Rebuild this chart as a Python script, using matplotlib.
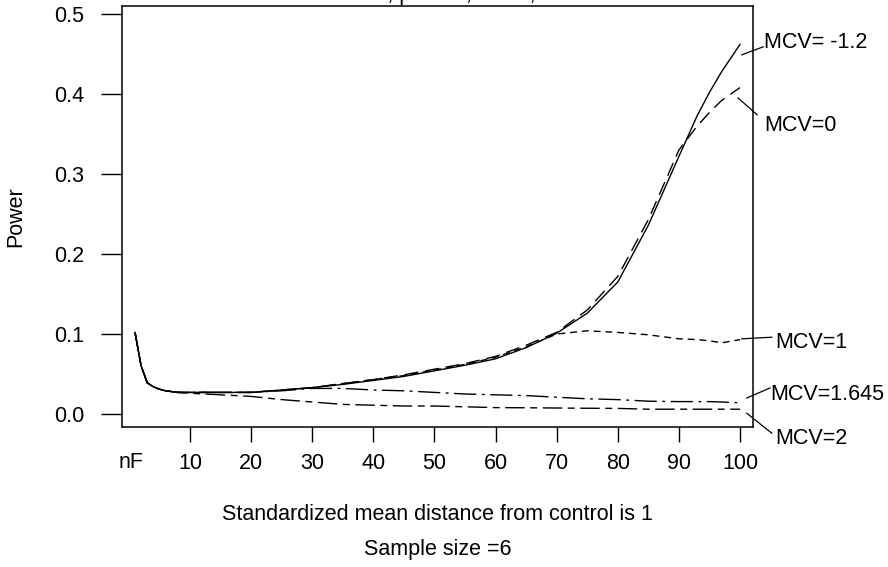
import matplotlib
matplotlib.use("Agg")
import matplotlib.pyplot as plt

plt.rcParams['font.family'] = ['Liberation Sans', 'DejaVu Sans']

# group size nF and power for each MCV value
nF = [1, 2, 3, 4, 5, 6, 8, 10, 15, 20, 25, 30, 35, 40, 45, 50, 55, 60, 65, 70,
      75, 80, 85, 90, 93, 95, 97, 100]

pow_m12 = [0.102, 0.060, 0.039, 0.034, 0.031, 0.029, 0.027, 0.027, 0.027, 0.027,
           0.030, 0.033, 0.037, 0.042, 0.047, 0.054, 0.061, 0.069, 0.083, 0.101,
           0.126, 0.165, 0.236, 0.322, 0.373, 0.402, 0.428, 0.462]
pow_0 = [0.102, 0.060, 0.039, 0.034, 0.031, 0.029, 0.027, 0.027, 0.027, 0.027,
         0.030, 0.033, 0.038, 0.043, 0.049, 0.056, 0.063, 0.072, 0.086, 0.102,
         0.130, 0.172, 0.243, 0.330, 0.360, 0.377, 0.392, 0.408]
pow_1 = [0.102, 0.060, 0.039, 0.034, 0.031, 0.029, 0.027, 0.027, 0.027, 0.027,
         0.030, 0.033, 0.038, 0.043, 0.048, 0.055, 0.062, 0.071, 0.084, 0.100,
         0.104, 0.102, 0.099, 0.094, 0.093, 0.0915, 0.089, 0.093]
pow_1645 = [0.102, 0.060, 0.039, 0.034, 0.031, 0.029, 0.027, 0.027, 0.027, 0.027,
            0.029, 0.032, 0.032, 0.030, 0.029, 0.027, 0.025, 0.024, 0.023, 0.021,
            0.019, 0.018, 0.016, 0.0155, 0.0155, 0.0155, 0.015, 0.014]
pow_2 = [0.102, 0.060, 0.039, 0.034, 0.031, 0.029, 0.027, 0.026, 0.024, 0.022,
         0.018, 0.015, 0.012, 0.011, 0.010, 0.010, 0.009, 0.008, 0.0078, 0.0075,
         0.0072, 0.007, 0.006, 0.006, 0.006, 0.006, 0.006, 0.006]

labels = ['MCV= -1.2', 'MCV=0', 'MCV=1', 'MCV=1.645', 'MCV=2']
series = [pow_m12, pow_0, pow_1, pow_1645, pow_2]
styles = ['-', (0, (10, 5)), (0, (5, 3.5)), (0, (16, 4, 2, 4)), (0, (14, 4, 5, 4))]

# label text position and leader line (start, end) in data units
label_pos = [(103.9, 0.464), (103.9, 0.361), (105.7, 0.089), (105.0, 0.024), (105.7, -0.031)]
leader_from = [(100.3, 0.449), (99.7, 0.395), (100.3, 0.094), (101.1, 0.020), (101.1, 0.001)]
leader_to = [(103.8, 0.459), (102.8, 0.374), (105.2, 0.096), (104.9, 0.0325), (105.2, -0.024)]

xticks = [10, 20, 30, 40, 50, 60, 70, 80, 90, 100]
yticks = [0.0, 0.1, 0.2, 0.3, 0.4, 0.5]

fig = plt.figure(figsize=(8.88, 5.67), dpi=100)
ax = fig.add_axes([0.1374, 0.2469, 0.7106, 0.7425])

for vals, ls in zip(series, styles):
    ax.plot(nF, vals, color='black', linestyle=ls, linewidth=1.0)

for lab, p, a, b in zip(labels, label_pos, leader_from, leader_to):
    ax.plot([a[0], b[0]], [a[1], b[1]], color='black', linewidth=0.9, clip_on=False)
    ax.text(p[0], p[1], lab, fontsize=15.5, ha='left', va='center', clip_on=False)

ax.set_xlim(-1.13, 102.13)
ax.set_ylim(-0.01625, 0.51)
ax.set_xticks(xticks)
ax.set_yticks(yticks)
ax.set_yticklabels([f'{v:.1f}' for v in yticks])
ax.tick_params(axis='x', length=11, width=1, pad=8, labelsize=15.5, direction='out')
ax.tick_params(axis='y', length=15, width=1, pad=12, labelsize=15.5, direction='out')
for s in ax.spines.values():
    s.set_linewidth(1.1)

ax.text(0.3, -0.06, 'nF', fontsize=15.5, ha='center', va='center', clip_on=False)
ax.set_ylabel('Power', fontsize=15.5)
ax.yaxis.set_label_coords(-0.152, 0.5)

fig.text(0.4927, 1 - 515 / 567, 'Standardized mean distance from control is 1',
         fontsize=15.5, ha='center', va='center')
fig.text(0.4927, 1 - 550 / 567, 'Sample size =6', fontsize=15.5, ha='center', va='center')

# title sits mostly above the top edge in the reference, only descenders show
fig.text(0.4927, 1.0, 'MCV test, p=0.05, nC=6, k=4', fontsize=15.5,
         ha='center', va='baseline')

fig.savefig('out.png', dpi=100)
